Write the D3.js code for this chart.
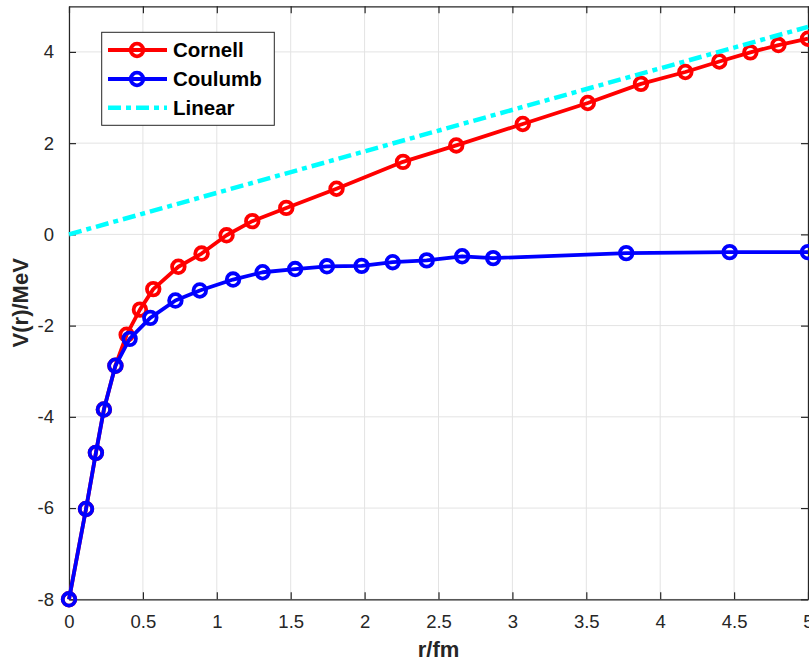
<!DOCTYPE html>
<html>
<head>
<meta charset="utf-8">
<script src="https://cdn.jsdelivr.net/npm/d3@7"></script>
<style>
  body { margin: 0; background: #fff; }
  text { font-family: "Liberation Sans", Arial, Helvetica, sans-serif; }
</style>
</head>
<body>
<svg id="chart" width="809" height="664"></svg>
<script>
// data
var cornellR = [0, 0.115, 0.182, 0.236, 0.314, 0.39, 0.48, 0.57, 0.74, 0.897, 1.066, 1.24, 1.47, 1.81, 2.26, 2.62, 3.07, 3.51, 3.87, 4.17, 4.4, 4.61, 4.8, 5.0];
var cornellV = [-8, -6.02, -4.79, -3.84, -2.88, -2.2, -1.65, -1.2, -0.71, -0.42, -0.02, 0.29, 0.58, 1.0, 1.59, 1.95, 2.42, 2.88, 3.3, 3.56, 3.79, 3.99, 4.15, 4.29];
var coulombR = [0, 0.115, 0.182, 0.236, 0.314, 0.41, 0.55, 0.72, 0.885, 1.11, 1.31, 1.53, 1.745, 1.98, 2.19, 2.42, 2.66, 2.87, 3.77, 4.47, 5.0];
var coulombV = [-8, -6.02, -4.79, -3.84, -2.88, -2.29, -1.83, -1.45, -1.23, -0.99, -0.83, -0.76, -0.70, -0.69, -0.61, -0.57, -0.48, -0.52, -0.41, -0.39, -0.39];
var linearR = [0, 5];
var linearV = [0, 4.55];
var xTicks = [0, 0.5, 1, 1.5, 2, 2.5, 3, 3.5, 4, 4.5, 5];
var yTicks = [-8, -6, -4, -2, 0, 2, 4];
var seriesNames = ["Cornell", "Coulumb", "Linear"];
var seriesColors = ["#ff0000", "#0000ff", "#00ffff"];

var ctx = {left: 69, right: 808, top: 6.3, bottom: 599.3, tick: 7, axisColor: "#262626", gridColor: "#e3e3e3",
           lineW: 3.8, markR: 6.3, markW: 3.8, linW: 4.5, dash: "13,5,5,5"};

var svg = d3.select("#chart");
var x = d3.scaleLinear().domain([0, 5]).range([ctx.left, ctx.right]);
var y = d3.scaleLinear().domain([-8, 5]).range([ctx.bottom, ctx.top]);
var fmt = d => String(d); // matlab uses a plain hyphen for minus

// grid
var grid = svg.append("g").attr("id", "grid");
grid.selectAll("line.gx").data(xTicks).enter().append("line")
  .attr("x1", d => x(d)).attr("x2", d => x(d))
  .attr("y1", ctx.top).attr("y2", ctx.bottom)
  .attr("stroke", ctx.gridColor).attr("stroke-width", 1);
grid.selectAll("line.gy").data(yTicks).enter().append("line")
  .attr("x1", ctx.left).attr("x2", ctx.right)
  .attr("y1", d => y(d)).attr("y2", d => y(d))
  .attr("stroke", ctx.gridColor).attr("stroke-width", 1);

// axes (inward ticks on all four sides, like a matlab box)
var xAxis = svg.append("g").attr("transform", "translate(0," + ctx.bottom + ")")
  .call(d3.axisBottom(x).tickValues(xTicks).tickSizeInner(-ctx.tick).tickSizeOuter(0).tickPadding(16).tickFormat(fmt));
var xAxisTop = svg.append("g").attr("transform", "translate(0," + ctx.top + ")")
  .call(d3.axisTop(x).tickValues(xTicks).tickSizeInner(-ctx.tick).tickSizeOuter(0).tickFormat(""));
var yAxis = svg.append("g").attr("transform", "translate(" + ctx.left + ",0)")
  .call(d3.axisLeft(y).tickValues(yTicks).tickSizeInner(-ctx.tick).tickSizeOuter(0).tickPadding(15).tickFormat(fmt));
var yAxisRight = svg.append("g").attr("transform", "translate(" + ctx.right + ",0)")
  .call(d3.axisRight(y).tickValues(yTicks).tickSizeInner(-ctx.tick).tickSizeOuter(0).tickFormat(""));

[xAxis, xAxisTop, yAxis, yAxisRight].forEach(function(a) {
  a.select(".domain").attr("stroke", ctx.axisColor).attr("stroke-width", 1.2);
  a.selectAll(".tick line").attr("stroke", ctx.axisColor).attr("stroke-width", 1.2);
  a.selectAll(".tick text").attr("fill", ctx.axisColor)
    .style("font-size", "18.5px").style("font-family", "'Liberation Sans', Arial, sans-serif");
});
xAxis.selectAll(".tick text").attr("dy", "0.71em");

// series
var line = d3.line().x(d => x(d[0])).y(d => y(d[1]));
var plot = svg.append("g").attr("id", "plot");

function addSeries(rs, vs, color) {
  var pts = rs.map((r, i) => [r, vs[i]]);
  plot.append("path").datum(pts)
    .attr("d", line).attr("fill", "none")
    .attr("stroke", color).attr("stroke-width", ctx.lineW)
    .attr("stroke-linejoin", "round");
  plot.selectAll(null).data(pts).enter().append("circle")
    .attr("cx", d => x(d[0])).attr("cy", d => y(d[1]))
    .attr("r", ctx.markR).attr("fill", "none")
    .attr("stroke", color).attr("stroke-width", ctx.markW);
}
addSeries(cornellR, cornellV, seriesColors[0]);
addSeries(coulombR, coulombV, seriesColors[1]);

plot.append("path").datum(linearR.map((r, i) => [r, linearV[i]]))
  .attr("d", line).attr("fill", "none")
  .attr("stroke", seriesColors[2]).attr("stroke-width", ctx.linW)
  .attr("stroke-dasharray", ctx.dash);

// axis labels
svg.append("text")
  .attr("x", (ctx.left + ctx.right) / 2).attr("y", 657)
  .attr("text-anchor", "middle")
  .attr("font-weight", "bold").attr("font-size", 22).attr("fill", ctx.axisColor)
  .text("r/fm");
svg.append("text")
  .attr("transform", "translate(28," + (ctx.top + ctx.bottom) / 2 + ") rotate(-90)")
  .attr("text-anchor", "middle")
  .attr("font-weight", "bold").attr("font-size", 22).attr("fill", ctx.axisColor)
  .text("V(r)/MeV");

// legend
var legend = svg.append("g").attr("id", "legend");
legend.append("rect")
  .attr("x", 101.7).attr("y", 32.3).attr("width", 172.6).attr("height", 93)
  .attr("fill", "#fff").attr("stroke", ctx.axisColor).attr("stroke-width", 1);
var legendY = [50, 79, 107.7];
seriesNames.forEach(function(name, i) {
  var ly = legendY[i];
  legend.append("line")
    .attr("x1", 108).attr("x2", 167).attr("y1", ly).attr("y2", ly)
    .attr("stroke", seriesColors[i]).attr("stroke-width", i == 2 ? ctx.linW : ctx.lineW)
    .attr("stroke-dasharray", i == 2 ? ctx.dash : null);
  if (i < 2) {
    legend.append("circle").attr("cx", 137).attr("cy", ly).attr("r", ctx.markR)
      .attr("fill", "none").attr("stroke", seriesColors[i]).attr("stroke-width", ctx.markW);
  }
  legend.append("text")
    .attr("x", 173).attr("y", ly).attr("dy", "0.36em")
    .attr("font-weight", "bold").attr("font-size", 20.5).attr("fill", "#000")
    .text(name);
});
</script>
</body>
</html>
